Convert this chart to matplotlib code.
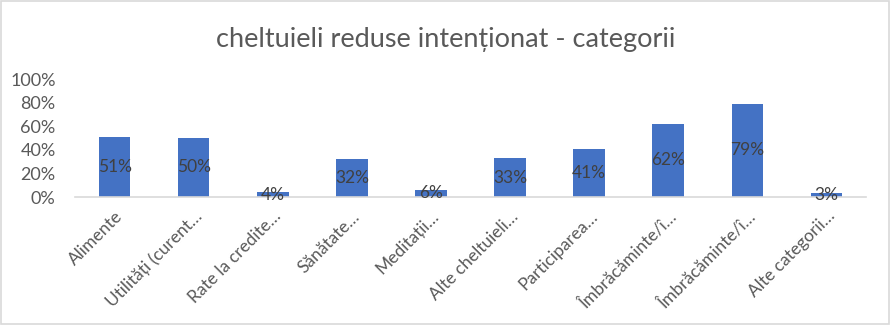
import matplotlib
matplotlib.use("Agg")
import matplotlib.pyplot as plt
import numpy as np

categories = [
    "Alimente",
    "Utilități (curent…",
    "Rate la credite…",
    "Sănătate…",
    "Meditații…",
    "Alte cheltuieli…",
    "Participarea…",
    "Îmbrăcăminte/î…",
    "Îmbrăcăminte/î…",
    "Alte categorii…",
]
values = [0.51, 0.50, 0.04, 0.32, 0.06, 0.33, 0.41, 0.62, 0.79, 0.03]
yticks = [0, 0.2, 0.4, 0.6, 0.8, 1.0]

plt.rcParams["font.family"] = ["Lato", "DejaVu Sans"]

fig = plt.figure(figsize=(8.91, 3.25), dpi=100)
ax = fig.add_axes([75 / 891, (325 - 197) / 325, (866 - 75) / 891, (197 - 79) / 325])

x = np.arange(len(categories))
ax.bar(x, values, width=0.4, color="#4472C4", zorder=2)

for xi, v in zip(x, values):
    ax.text(xi, v / 2, f"{round(v * 100)}%", ha="center", va="center",
            fontsize=12.5, color="#404040", zorder=3)

ax.set_xlim(-0.5, len(categories) - 0.5)
ax.set_ylim(0, 1.0)
ax.set_yticks(yticks)
ax.set_yticklabels([f"{int(t * 100)}%" for t in yticks], fontsize=13, color="#595959")
ax.set_xticks(x)
ax.set_xticklabels(categories, rotation=45, ha="right", rotation_mode="anchor",
                   fontsize=12.5, color="#595959")
ax.tick_params(axis="y", length=0, pad=14)
ax.tick_params(axis="x", length=0, pad=8)

for s in ["top", "right", "left"]:
    ax.spines[s].set_visible(False)
ax.spines["bottom"].set_color("#D9D9D9")
ax.spines["bottom"].set_linewidth(1.2)

fig.suptitle("cheltuieli reduse intenționat - categorii", y=1 - 40 / 325, va="center",
             fontsize=19.5, color="#595959")

border = plt.Rectangle((0.001, 0.002), 0.997, 0.995, transform=fig.transFigure,
                       fill=False, edgecolor="#D9D9D9", linewidth=1.2)
fig.patches.append(border)

fig.savefig("out.png", dpi=100)
